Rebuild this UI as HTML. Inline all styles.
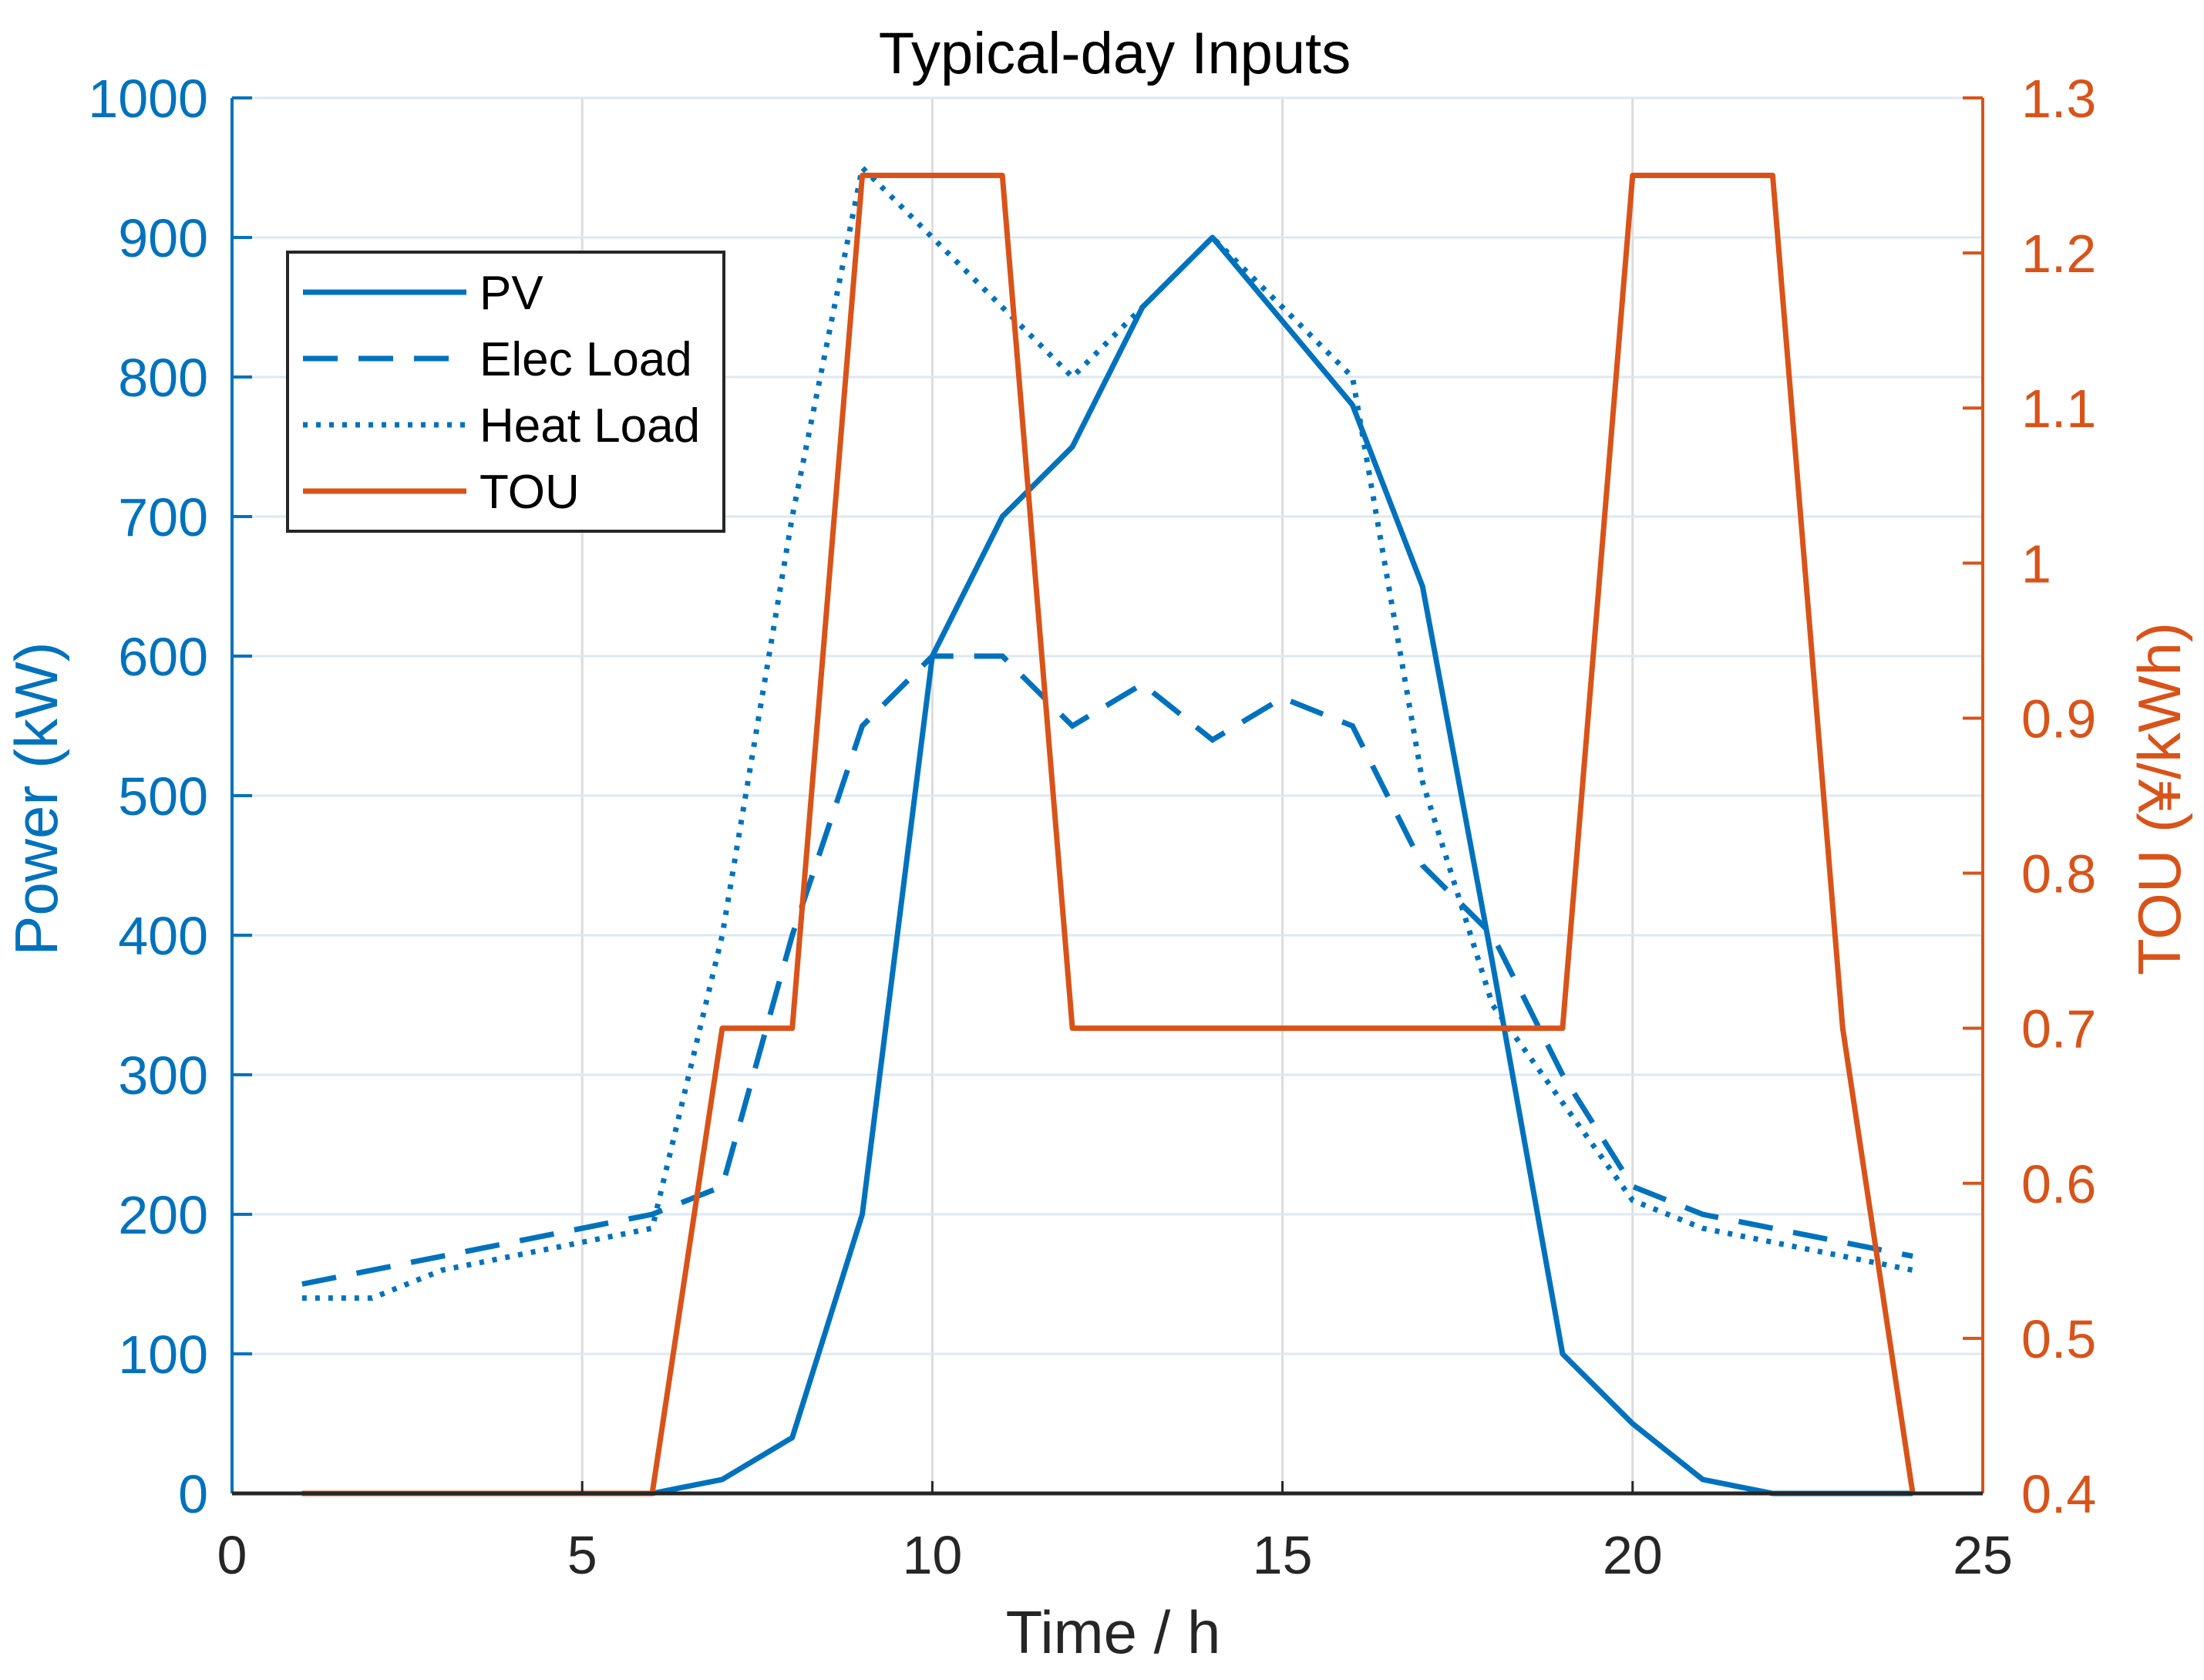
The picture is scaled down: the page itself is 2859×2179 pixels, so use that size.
<!DOCTYPE html>
<html><head><meta charset="utf-8"><style>
html,body{margin:0;padding:0;background:#fff}
svg{display:block;font-family:"Liberation Sans",Arial,sans-serif}
</style></head><body>
<svg id="chart" width="2859" height="2179" viewBox="0 0 2859 2179">
<g id="grid"></g>
<g id="series"></g>
<g id="axes"></g>
<text x="1446" y="95" font-size="76" text-anchor="middle" fill="#000">Typical-day Inputs</text>
<text x="1444" y="2144" font-size="78" text-anchor="middle" fill="#262626">Time / h</text>
<text transform="translate(74,1036) rotate(-90)" font-size="78" text-anchor="middle" fill="#0072BD">Power (kW)</text>
<text transform="translate(2828,1036) rotate(-90)" font-size="78" text-anchor="middle" fill="#D95319">TOU (¥/kWh)</text>
<g>
<rect x="373" y="327" width="566" height="362" fill="#fff" stroke="#262626" stroke-width="4"/>
<line x1="393" y1="379" x2="605" y2="379" stroke="#0072BD" stroke-width="7"/>
<text x="622" y="401" font-size="62" fill="#000">PV</text>
<line x1="393" y1="465" x2="605" y2="465" stroke="#0072BD" stroke-width="7" stroke-dasharray="45,27"/>
<text x="622" y="487" font-size="62" fill="#000">Elec Load</text>
<line x1="393" y1="551" x2="605" y2="551" stroke="#0072BD" stroke-width="7" stroke-dasharray="6,11"/>
<text x="622" y="573" font-size="62" fill="#000">Heat Load</text>
<line x1="393" y1="637" x2="605" y2="637" stroke="#D95319" stroke-width="7"/>
<text x="622" y="659" font-size="62" fill="#000">TOU</text>
</g>
</svg>
<script>
const hours=[1,2,3,4,5,6,7,8,9,10,11,12,13,14,15,16,17,18,19,20,21,22,23,24];
const pv=[0,0,0,0,0,0,10,40,200,600,700,750,850,900,840,780,650,380,100,50,10,0,0,0];
const elecLoad=[150,160,170,180,190,200,220,400,550,600,600,550,580,540,570,550,450,400,300,220,200,190,180,170];
const heatLoad=[140,140,160,170,180,190,400,700,950,900,850,800,850,900,850,800,510,350,280,210,190,180,170,160];
const tou=[0.4,0.4,0.4,0.4,0.4,0.4,0.7,0.7,1.25,1.25,1.25,0.7,0.7,0.7,0.7,0.7,0.7,0.7,0.7,1.25,1.25,1.25,0.7,0.4];
const xTicks=[0,5,10,15,20,25];
const yLeftTicks=[0,100,200,300,400,500,600,700,800,900,1000];
const yRightTicks=[0.4,0.5,0.6,0.7,0.8,0.9,1,1.1,1.2,1.3];

const L=301,R=2572,T=127,B=1937;
const X=v=>L+(v-0)/(25-0)*(R-L);
const YL=v=>B-(v-0)/(1000-0)*(B-T);
const YR=v=>B-(v-0.4)/(1.3-0.4)*(B-T);
const NS='http://www.w3.org/2000/svg';
function mk(tag,attrs,parent){const e=document.createElementNS(NS,tag);for(const k in attrs)e.setAttribute(k,attrs[k]);parent.appendChild(e);return e;}
const grid=document.getElementById('grid'),ser=document.getElementById('series'),ax=document.getElementById('axes');

xTicks.forEach(t=>{
  if(t>0&&t<25){const g=mk('line',{x1:X(t),x2:X(t),y1:T,y2:B,stroke:'#dcdcdc','stroke-width':3},grid);
  
  }
  const tk=mk('line',{x1:X(t),x2:X(t),y1:B,y2:B-16,stroke:'#262626','stroke-width':3},ax);
  
  
  const lb=mk('text',{x:X(t),y:2041,'font-size':70,'text-anchor':'middle',fill:'#262626'},ax);
  lb.textContent=t;
  
  
});
yLeftTicks.forEach(t=>{
  if(t>0){const g=mk('line',{x1:L,x2:R,y1:YL(t),y2:YL(t),stroke:'#dde8f1','stroke-width':3},grid);
  
  }
  const tk=mk('line',{x1:L,x2:L+26,y1:YL(t),y2:YL(t),stroke:'#0072BD','stroke-width':4},ax);
  
  
  const lb=mk('text',{x:270,y:YL(t)+25,'font-size':70,'text-anchor':'end',fill:'#0072BD'},ax);
  lb.textContent=t;
  
  
});
yRightTicks.forEach(t=>{
  const tk=mk('line',{x1:R,x2:R-26,y1:YR(t),y2:YR(t),stroke:'#D95319','stroke-width':4},ax);
  
  
  const lb=mk('text',{x:2622,y:YR(t)+25,'font-size':70,'text-anchor':'start',fill:'#D95319'},ax);
  lb.textContent=t;
  
  
});
const la=mk('line',{x1:L,x2:L,y1:T,y2:B,stroke:'#0072BD','stroke-width':4},ax);


const ra=mk('line',{x1:R,x2:R,y1:T,y2:B,stroke:'#D95319','stroke-width':4},ax);


const ba=mk('line',{x1:L,x2:R,y1:B,y2:B,stroke:'#262626','stroke-width':5},ax);



function pts(arr,yf){return arr.map((v,i)=>X(hours[i])+','+yf(v)).join(' ');}
const s1=mk('polyline',{points:pts(pv,YL),fill:'none',stroke:'#0072BD','stroke-width':7,'stroke-linejoin':'round'},ser);


const s2=mk('polyline',{points:pts(elecLoad,YL),fill:'none',stroke:'#0072BD','stroke-width':7,'stroke-dasharray':'45,27'},ser);


const s3=mk('polyline',{points:pts(heatLoad,YL),fill:'none',stroke:'#0072BD','stroke-width':7,'stroke-dasharray':'6,11'},ser);


const s4=mk('polyline',{points:pts(tou,YR),fill:'none',stroke:'#D95319','stroke-width':7,'stroke-linejoin':'round'},ser);


</script>
</body></html>
